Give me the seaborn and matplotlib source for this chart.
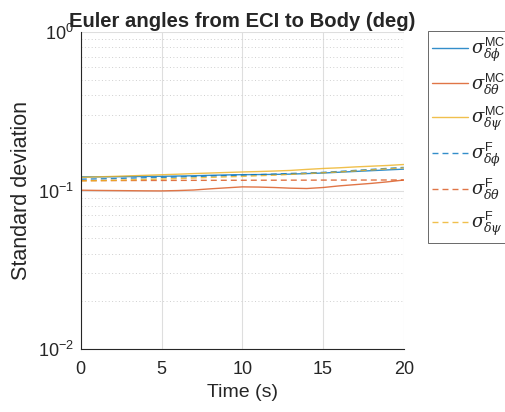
import numpy as np
import pandas as pd
import seaborn as sns
import matplotlib
matplotlib.use("Agg")
import matplotlib.pyplot as plt
from matplotlib.ticker import LogLocator, NullFormatter

# time samples (s)
time_s = [0, 1, 2, 3, 4, 5, 6, 7, 8, 9, 10, 11, 12, 13, 14, 15, 16, 17, 18, 19, 20]

# Monte Carlo standard deviations (deg)
mc_phi = [0.122, 0.122, 0.1222, 0.1225, 0.1228, 0.123, 0.1235, 0.124, 0.1248, 0.1255, 0.126,
          0.1262, 0.1265, 0.127, 0.128, 0.129, 0.1305, 0.132, 0.1335, 0.135, 0.1365]
mc_theta = [0.1005, 0.1002, 0.1, 0.0998, 0.0996, 0.0995, 0.1, 0.1008, 0.1025, 0.104, 0.1055,
            0.1052, 0.1045, 0.1035, 0.103, 0.1045, 0.107, 0.109, 0.111, 0.1135, 0.1165]
mc_psi = [0.121, 0.122, 0.1228, 0.1238, 0.1248, 0.1258, 0.1268, 0.128, 0.129, 0.13, 0.131,
          0.1318, 0.1328, 0.134, 0.136, 0.1378, 0.1392, 0.141, 0.1425, 0.144, 0.146]

# filter standard deviations (deg)
f_phi = [0.118, 0.1185, 0.119, 0.1198, 0.1205, 0.121, 0.1218, 0.1225, 0.1235, 0.1242, 0.125,
         0.126, 0.127, 0.1282, 0.129, 0.1302, 0.132, 0.134, 0.136, 0.138, 0.140]
f_theta = [0.1155, 0.1155, 0.1156, 0.1157, 0.1158, 0.1158, 0.1159, 0.116, 0.116, 0.1161, 0.1161,
           0.1162, 0.1162, 0.1163, 0.1163, 0.1164, 0.1164, 0.1165, 0.1165, 0.1166, 0.1166]
f_psi = [0.115, 0.1155, 0.116, 0.1168, 0.1175, 0.1182, 0.119, 0.12, 0.121, 0.122, 0.1228,
         0.124, 0.125, 0.1265, 0.128, 0.1295, 0.131, 0.133, 0.135, 0.137, 0.139]

labels = [r'$\sigma^{\mathrm{MC}}_{\delta\phi}$', r'$\sigma^{\mathrm{MC}}_{\delta\theta}$',
          r'$\sigma^{\mathrm{MC}}_{\delta\psi}$', r'$\sigma^{\mathrm{F}}_{\delta\phi}$',
          r'$\sigma^{\mathrm{F}}_{\delta\theta}$', r'$\sigma^{\mathrm{F}}_{\delta\psi}$']
series = [mc_phi, mc_theta, mc_psi, f_phi, f_theta, f_psi]
colors = ['#0072BD', '#D95319', '#EDB120'] * 2
dashed = (0, (4.3, 2.9))
styles = ['-', '-', '-', dashed, dashed, dashed]

sns.set_style("white")
plt.rcParams['font.family'] = ['Liberation Sans', 'DejaVu Sans']
plt.rcParams['mathtext.fontset'] = 'custom'
plt.rcParams['mathtext.rm'] = 'Liberation Sans'
plt.rcParams['mathtext.it'] = 'DejaVu Serif:italic'

fig = plt.figure(figsize=(5.05, 4.12), dpi=100)
ax = fig.add_axes([0.16, 0.153, 0.6394, 0.769])

for vals, lab, col, ls in zip(series, labels, colors, styles):
    df = pd.DataFrame({'t': time_s, 'sd': vals})
    sns.lineplot(data=df, x='t', y='sd', ax=ax, color=col, linestyle=ls,
                 linewidth=1.0, alpha=0.8, label=lab)

ax.set_yscale('log')
ax.set_xlim(0, 20)
ax.set_ylim(1e-2, 1e0)
ax.set_xticks([0, 5, 10, 15, 20])
ax.yaxis.set_major_locator(LogLocator(base=10, numticks=5))
ax.yaxis.set_minor_locator(LogLocator(base=10, subs=np.arange(2, 10), numticks=20))
ax.yaxis.set_minor_formatter(NullFormatter())

ax.grid(True, which='major', color='#dedede', linewidth=0.8)
ax.grid(True, which='minor', axis='y', color='#cfcfcf', linestyle=(0, (1, 2.5)), linewidth=0.7)
ax.set_axisbelow(True)

for side in ['top', 'right']:
    ax.spines[side].set_visible(False)
for side in ['left', 'bottom']:
    ax.spines[side].set_color('#262626')
    ax.spines[side].set_linewidth(0.8)

ax.tick_params(axis='both', which='both', direction='in', labelsize=13, colors='#262626',
               length=3, width=0.6)
ax.tick_params(axis='both', which='minor', length=1.8)
ax.tick_params(axis='x', pad=9)
ax.tick_params(axis='y', pad=5)

ax.set_xlabel('Time (s)', fontsize=14, color='#262626', labelpad=4)
ax.set_ylabel('Standard deviation', fontsize=15.5, color='#262626', labelpad=4)
ax.set_title('Euler angles from ECI to Body (deg)', fontsize=14.6, fontweight='bold', pad=3.5)

leg = ax.legend(loc='upper left', bbox_to_anchor=(427.7 / 505, 1 - 31 / 412),
                bbox_transform=fig.transFigure, fontsize=13, frameon=True, fancybox=False,
                handlelength=2.0, handletextpad=0.15, labelspacing=0.43, borderpad=0.25,
                borderaxespad=0)
leg.get_frame().set_edgecolor('#262626')
leg.get_frame().set_linewidth(0.6)

fig.savefig('out.png', dpi=100)
